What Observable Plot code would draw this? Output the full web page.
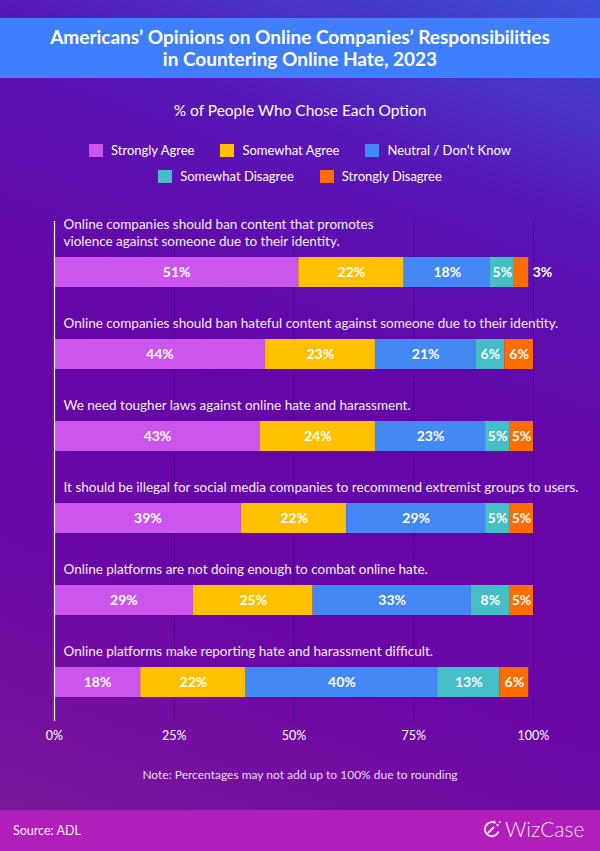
<!DOCTYPE html>
<html>
<head>
<meta charset="utf-8">
<script src="https://cdn.jsdelivr.net/npm/d3@7"></script>
<script src="https://cdn.jsdelivr.net/npm/@observablehq/plot@0.6"></script>
<style>
  html, body { margin: 0; padding: 0; }
  body { font-family: Lato, "Open Sans", sans-serif; }
  #page {
    position: relative; width: 600px; height: 851px; overflow: hidden;
    background: linear-gradient(200deg, #3b50d6 0%, #5816b6 22%, #6406a8 45%, #6a06a6 70%, #7e1a98 100%);
    color: white;
  }
  #titlebar {
    position: absolute; left: 0; right: 0; top: 18px; height: 60px;
    background: #3f7ffe; display: flex; align-items: center; justify-content: center;
    text-align: center; font-weight: bold; font-size: 19px; line-height: 22px;
  }
  #subtitle {
    position: absolute; left: 0; right: 0; top: 100px; text-align: center;
    font-size: 15.5px; line-height: 20px;
  }
  #legend {
    position: absolute; left: 75px; width: 450px; top: 137px;
    display: flex; flex-wrap: wrap; justify-content: center; column-gap: 26px;
  }
  .item { display: flex; align-items: center; height: 26px; font-size: 13px; }
  .sw { width: 14px; height: 13px; margin-right: 8px; }
  #chart { position: absolute; left: 0; top: 195px; }
  #note {
    position: absolute; left: 0; right: 0; top: 766px; text-align: center;
    font-size: 12px; line-height: 18px; color: #eadcf4;
  }
  #footer {
    position: absolute; left: 0; right: 0; top: 810px; height: 41px; background: #b21eba;
  }
  #source { position: absolute; left: 13px; top: 12px; font-size: 12.5px; line-height: 18px; color: #f6ecf8; }
  #logo { position: absolute; left: 482px; top: 6px; display: flex; align-items: center; color: #efe0f4; font-size: 21px; font-weight: 300; }
</style>
</head>
<body>
<div id="page">
  <div id="titlebar"><div id="title"></div></div>
  <div id="subtitle"></div>
  <div id="legend"></div>
  <div id="chart"></div>
  <div id="note"></div>
  <div id="footer">
    <div id="source"></div>
    <div id="logo">
      <svg width="20" height="20" viewBox="0 0 20 20" style="margin-right:3px">
        <path d="M13.5 4.2 A7 7 0 1 0 16.5 12.5" fill="none" stroke="#efe0f4" stroke-width="1.8"/>
        <line x1="6" y1="14" x2="12" y2="8" stroke="#efe0f4" stroke-width="1.8"/>
        <circle cx="15.5" cy="6" r="1.2" fill="#efe0f4"/>
        <circle cx="17.8" cy="3.2" r="1" fill="#efe0f4"/>
        <circle cx="12.5" cy="2.5" r="0.9" fill="#efe0f4"/>
      </svg>
      <span id="logotext"></span>
    </div>
  </div>
</div>
<script>
// ---- Data ----
const titleLines = ["Americans’ Opinions on Online Companies’ Responsibilities", "in Countering Online Hate, 2023"];
const subtitle = "% of People Who Chose Each Option";
const note = "Note: Percentages may not add up to 100% due to rounding";
const source = "Source: ADL";
const brand = "WizCase";

const questions = [
  "Online companies should ban content that promotes\nviolence against someone due to their identity.",
  "Online companies should ban hateful content against someone due to their identity.",
  "We need tougher laws against online hate and harassment.",
  "It should be illegal for social media companies to recommend extremist groups to users.",
  "Online platforms are not doing enough to combat online hate.",
  "Online platforms make reporting hate and harassment difficult."
];
const options = ["Strongly Agree", "Somewhat Agree", "Neutral / Don’t Know", "Somewhat Disagree", "Strongly Disagree"];
const colors = ["#cc55ee", "#ffc000", "#4488f5", "#45bec6", "#ff6d00"];

const stronglyAgree    = [51, 44, 43, 39, 29, 18];
const somewhatAgree    = [22, 23, 24, 22, 25, 22];
const neutral          = [18, 21, 23, 29, 33, 40];
const somewhatDisagree = [5, 6, 5, 5, 8, 13];
const stronglyDisagree = [3, 6, 5, 5, 5, 6];

const xTicks = [0, 25, 50, 75, 100];
const xTickLabels = ["0%", "25%", "50%", "75%", "100%"];

// ---- Build ----
const series = [stronglyAgree, somewhatAgree, neutral, somewhatDisagree, stronglyDisagree];
const data = [];
questions.forEach((q, i) => {
  options.forEach((o, j) => data.push({question: q, option: o, value: series[j][i]}));
});

document.getElementById("title").innerHTML = titleLines.join("<br>");
document.getElementById("subtitle").textContent = subtitle;
document.getElementById("note").textContent = note;
document.getElementById("source").textContent = source;
document.getElementById("logotext").textContent = brand;

const legend = document.getElementById("legend");
options.forEach((o, j) => {
  const it = document.createElement("div");
  it.className = "item";
  const sw = document.createElement("span");
  sw.className = "sw";
  sw.style.background = colors[j];
  const tx = document.createElement("span");
  tx.textContent = o;
  it.appendChild(sw); it.appendChild(tx);
  legend.appendChild(it);
});

const chart = Plot.plot({
  width: 600,
  height: 555,
  marginLeft: 54,
  marginRight: 67,
  marginTop: 26,
  marginBottom: 29,
  style: {background: "transparent", overflow: "visible", fontFamily: "Lato, 'Open Sans', sans-serif"},
  x: {domain: [0, 100]},
  y: {type: "band", domain: questions, range: [33, 530], paddingInner: 0.638, paddingOuter: 0.319, axis: null},
  color: {domain: options, range: colors},
  marks: [
    Plot.gridX(xTicks.slice(1), {stroke: "#2a0060", strokeOpacity: 0.35, strokeWidth: 1}),
    Plot.barX(data, {x: "value", y: "question", fill: "option", order: options}),
    Plot.text(data, Plot.stackX({
      x: "value", y: "question", z: "option", order: options,
      text: d => d.value >= 4 ? d.value + "%" : null,
      fill: "white", fontWeight: "bold", fontSize: 14
    })),
    Plot.text(data, Plot.stackX2({
      x: "value", y: "question", z: "option", order: options,
      text: d => d.value < 4 ? d.value + "%" : null,
      fill: "white", fontWeight: "bold", fontSize: 14, textAnchor: "start", dx: 4
    })),
    Plot.text(questions, {
      x: 0, y: d => d, text: d => d, textAnchor: "start", lineAnchor: "bottom",
      dx: 9, dy: -27, fill: "#f6eefa", fontSize: 13.5, lineHeight: 1.22
    }),
    Plot.ruleX([0], {stroke: "white", strokeWidth: 1.2}),
    Plot.axisX(xTicks, {
      tickSize: 0, tickPadding: 10, tickFormat: (d, i) => xTickLabels[i],
      fill: "white", fontSize: 12.5, label: null
    })
  ]
});
document.getElementById("chart").appendChild(chart);
</script>
</body>
</html>
